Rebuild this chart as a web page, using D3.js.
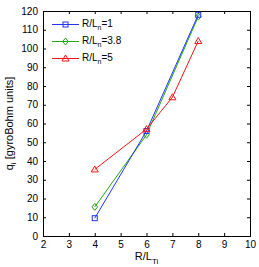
<!DOCTYPE html>
<html>
<head>
<meta charset="utf-8">
<script src="https://cdn.jsdelivr.net/npm/d3@7"></script>
<style>
  body { margin: 0; background: #fff; }
  svg { font-family: "Liberation Sans", Arial, sans-serif; }
</style>
</head>
<body>
<svg id="chart" width="259" height="267"></svg>
<script>
// data
const xTicks = [2, 3, 4, 5, 6, 7, 8, 9, 10];
const yTicks = [0, 10, 20, 30, 40, 50, 60, 70, 80, 90, 100, 110, 120];
const xLn1 = [4, 6, 8];
const yLn1 = [9.5, 56, 118];
const xLn38 = [4, 6, 8];
const yLn38 = [15.5, 54, 117];
const xLn5 = [4, 6, 7, 8];
const yLn5 = [35.5, 57, 74, 104];

const series = [
  {name: "3.8", xs: xLn38, ys: yLn38, color: "#22aa11", marker: "diamond"},
  {name: "1", xs: xLn1, ys: yLn1, color: "#2233ff", marker: "square"},
  {name: "5", xs: xLn5, ys: yLn5, color: "#ff1111", marker: "triangle"}
];
const legendOrder = ["1", "3.8", "5"];

const svg = d3.select("#chart");
const m = {left: 43, right: 9, top: 11, bottom: 31};
const W = 259, H = 267;
const x = d3.scaleLinear().domain([2, 10]).range([m.left, W - m.right]);
const y = d3.scaleLinear().domain([0, 120]).range([H - m.bottom, m.top]);

// axes with inward ticks on all four sides
const tl = 3;
svg.append("g").attr("transform", `translate(0,${y(0)})`)
  .call(d3.axisBottom(x).tickValues(xTicks).tickSize(-tl).tickPadding(5).tickFormat(d3.format("d")));
svg.append("g").attr("transform", `translate(0,${y(120)})`)
  .call(d3.axisTop(x).tickValues(xTicks).tickSize(-tl).tickFormat(""));
svg.append("g").attr("transform", `translate(${x(2)},0)`)
  .call(d3.axisLeft(y).tickValues(yTicks).tickSize(-tl).tickPadding(5).tickFormat(d3.format("d")));
svg.append("g").attr("transform", `translate(${x(10)},0)`)
  .call(d3.axisRight(y).tickValues(yTicks).tickSize(-tl).tickFormat(""));
svg.selectAll(".domain").attr("stroke", "#000").attr("stroke-width", 1);
svg.selectAll(".tick line").attr("stroke", "#000");
svg.selectAll(".tick text").attr("font-size", 10).attr("fill", "#000")
  .attr("font-family", "Liberation Sans, Arial, sans-serif");

function marker(g, type, cx, cy, color) {
  if (type === "square") {
    g.append("rect").attr("x", cx - 2.5).attr("y", cy - 2.5).attr("width", 5).attr("height", 5)
      .attr("fill", "none").attr("stroke", color);
  } else if (type === "diamond") {
    g.append("path").attr("d", `M${cx},${cy - 3.5}L${cx + 2.8},${cy}L${cx},${cy + 3.5}L${cx - 2.8},${cy}Z`)
      .attr("fill", "none").attr("stroke", color);
  } else {
    g.append("path").attr("d", `M${cx},${cy - 3.5}L${cx + 3.5},${cy + 2.5}L${cx - 3.5},${cy + 2.5}Z`)
      .attr("fill", "none").attr("stroke", color);
  }
}

const line = d3.line().x(d => x(d[0])).y(d => y(d[1]));
series.forEach(s => {
  const pts = s.xs.map((v, i) => [v, s.ys[i]]);
  const g = svg.append("g");
  g.append("path").attr("d", line(pts)).attr("fill", "none").attr("stroke", s.color).attr("stroke-width", 1);
  pts.forEach(p => marker(g, s.marker, x(p[0]), y(p[1]), s.color));
});

// legend
legendOrder.forEach((n, i) => {
  const s = series.find(d => d.name === n);
  const ly = 24.5 + i * 17;
  const g = svg.append("g");
  g.append("line").attr("x1", 52).attr("x2", 79).attr("y1", ly).attr("y2", ly)
    .attr("stroke", s.color).attr("stroke-width", 1);
  marker(g, s.marker, 65.5, ly, s.color);
  const t = g.append("text").attr("x", 82).attr("y", ly + 2).attr("font-size", 10);
  t.append("tspan").text("R/L");
  t.append("tspan").attr("font-size", 7).attr("dy", 3).text("n");
  t.append("tspan").attr("dy", -3).text("=" + n);
});

// axis labels
const xl = svg.append("text").attr("x", (x(2) + x(10)) / 2).attr("y", 260).attr("text-anchor", "middle").attr("font-size", 11);
xl.append("tspan").text("R/L");
xl.append("tspan").attr("font-size", 8).attr("dy", 4).text("Ti");

const yl = svg.append("text").attr("transform", `translate(13,${(y(0) + y(120)) / 2}) rotate(-90)`)
  .attr("text-anchor", "middle").attr("font-size", 11);
yl.append("tspan").text("q");
yl.append("tspan").attr("font-size", 8).attr("dy", 3).text("i");
yl.append("tspan").attr("dy", -3).text(" [gyroBohm units]");
</script>
</body>
</html>
